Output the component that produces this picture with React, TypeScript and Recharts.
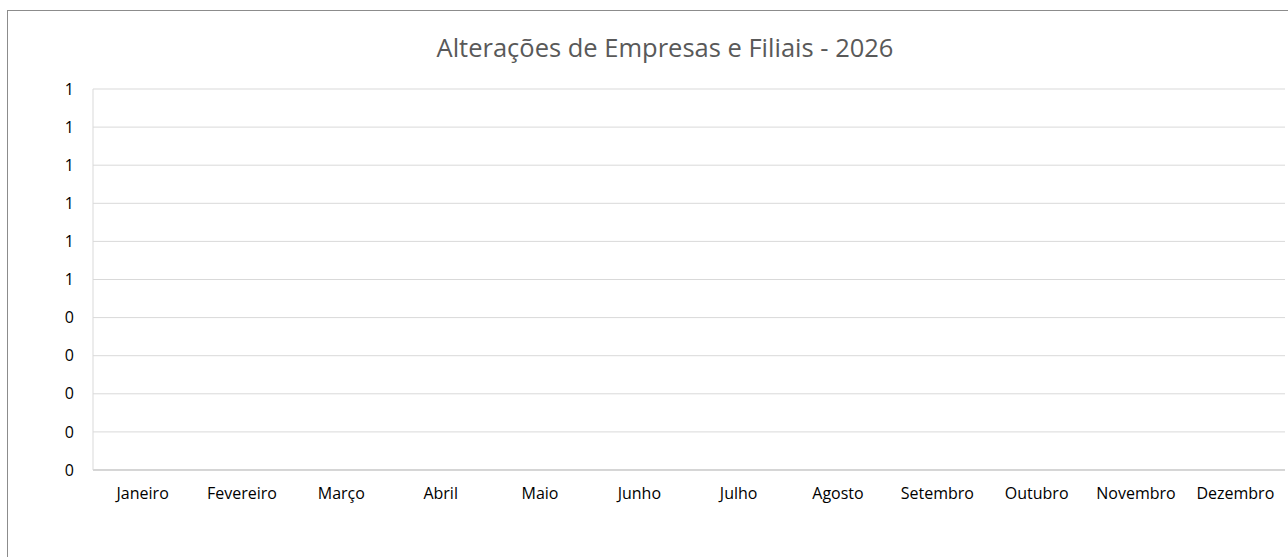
import { BarChart, Bar, XAxis, YAxis, CartesianGrid } from 'recharts'

const months = [
  'Janeiro', 'Fevereiro', 'Março', 'Abril', 'Maio', 'Junho',
  'Julho', 'Agosto', 'Setembro', 'Outubro', 'Novembro', 'Dezembro',
]
// no values recorded yet for 2026
const alteracoes: (number | null)[] = [
  null, null, null, null, null, null,
  null, null, null, null, null, null,
]
const yTicks = [0, 0.1, 0.2, 0.3, 0.4, 0.5, 0.6, 0.7, 0.8, 0.9, 1]

const data = months.map((m, i) => ({ mes: m, valor: alteracoes[i] }))

const FONT = '"Open Sans", "Noto Sans", sans-serif'

export default function App() {
  return (
    <div style={{ position: 'absolute', left: 0, top: 0, width: 1288, height: 557, overflow: 'hidden', background: '#fff' }}>
      <div
        style={{
          position: 'absolute', left: 7, top: 10, width: 1300, height: 600,
          border: '1px solid #8c8c8c', boxSizing: 'border-box',
        }}
      />
      <div
        style={{
          position: 'absolute', left: 0, top: 30, width: 1330, textAlign: 'center',
          fontFamily: FONT, fontSize: 25.5, color: '#595959', lineHeight: '34px',
        }}
      >
        Alterações de Empresas e Filiais - 2026
      </div>
      <div style={{ position: 'absolute', left: 0, top: 0 }}>
        <BarChart
          width={1288}
          height={557}
          data={data}
          margin={{ top: 89, right: 3, left: 63, bottom: 57 }}
        >
          <CartesianGrid vertical={false} stroke="#d9d9d9" />
          <XAxis
            dataKey="mes"
            axisLine={{ stroke: '#bfbfbf' }}
            tickLine={false}
            tickSize={0}
            tickMargin={18}
            height={30}
            interval={0}
            tick={{ fontSize: 16, fill: '#000', fontFamily: FONT }}
          />
          <YAxis
            type="number"
            domain={[0, 1]}
            allowDataOverflow
            ticks={yTicks}
            tickFormatter={(v: number) => String(Math.round(v))}
            axisLine={{ stroke: '#d9d9d9' }}
            tickLine={false}
            tickSize={0}
            tickMargin={19}
            width={30}
            tick={{ fontSize: 16, fill: '#000', fontFamily: FONT }}
          />
          <Bar dataKey="valor" fill="#4472c4" isAnimationActive={false} />
        </BarChart>
      </div>
    </div>
  )
}
